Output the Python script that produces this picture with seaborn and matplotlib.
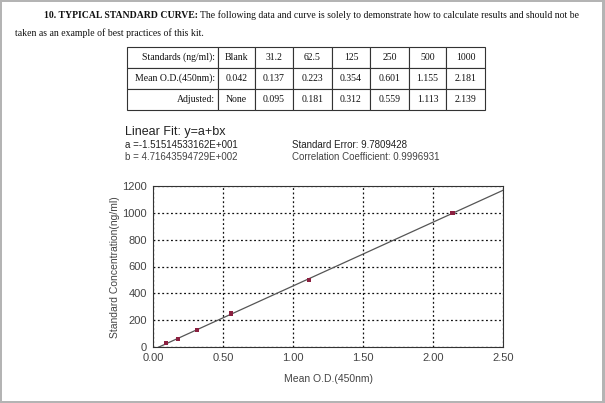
import matplotlib
matplotlib.use("Agg")
import matplotlib.pyplot as plt
import matplotlib.ticker as mticker
from matplotlib.patches import Rectangle
import seaborn as sns

sns.set_style("white")
plt.rcParams['font.family'] = ['Liberation Sans', 'DejaVu Sans']

# data from the kit's table
standards = ["Blank", "31.2", "62.5", "125", "250", "500", "1000"]
mean_od = ["0.042", "0.137", "0.223", "0.354", "0.601", "1.155", "2.181"]
adjusted = ["None", "0.095", "0.181", "0.312", "0.559", "1.113", "2.139"]
row_names = ["Standards (ng/ml):", "Mean O.D.(450nm):", "Adjusted:"]

conc = [31.2, 62.5, 125, 250, 500, 1000]
od_adj = [0.095, 0.181, 0.312, 0.559, 1.113, 2.139]

fit_a = "-1.51514533162E+001"
fit_b = "4.71643594729E+002"
std_err = "9.7809428"
corr = "0.9996931"

W, H = 605, 403


def fx(x):
    return x / W


def fy(y):
    return 1 - y / H


fig = plt.figure(figsize=(W / 100, H / 100), dpi=100)
fig.patch.set_facecolor('#b4b4b4')
fig.patches.append(Rectangle((fx(2), fy(401)), 600 / W, 399 / H, transform=fig.transFigure,
                             facecolor='white', edgecolor='none', zorder=-5))

# document text
serif = ['Liberation Serif', 'DejaVu Serif']
fig.text(fx(44), fy(18), "10. TYPICAL STANDARD CURVE:", family=serif, fontsize=7,
         fontweight='bold', va='baseline', color='#111')
fig.text(fx(200), fy(18), "The following data and curve is solely to demonstrate how to calculate "
         "results and should not be", family=serif, fontsize=7, va='baseline', color='#111')
fig.text(fx(15), fy(36), "taken as an example of best practices of this kit.", family=serif,
         fontsize=7, va='baseline', color='#111')

# table
col_px = [91, 37, 38, 39, 38, 39, 37, 39]
tax = fig.add_axes([fx(127), fy(110), sum(col_px) / W, 63 / H])
tax.axis('off')
cells = [[name] + vals for name, vals in zip(row_names, [standards, mean_od, adjusted])]
tbl = tax.table(cellText=cells, colWidths=[c / sum(col_px) for c in col_px],
                bbox=[0, 0, 1, 1], cellLoc='center')
tbl.auto_set_font_size(False)
for (r, c), cell in tbl.get_celld().items():
    cell.set_linewidth(0.8)
    cell.set_edgecolor('#333')
    cell.get_text().set_fontsize(7)
    cell.get_text().set_family(serif)
    cell.get_text().set_color('#111')
    if c == 0:
        cell.get_text().set_ha('right')
        cell.PAD = 0.035

# fit header
fig.text(fx(125), fy(135), "Linear Fit: y=a+bx", fontsize=9, va='baseline', color='#222')
fig.text(fx(125), fy(148), "a =" + fit_a, fontsize=7, va='baseline', color='#222')
fig.text(fx(125), fy(160), "b = " + fit_b, fontsize=7, va='baseline', color='#444')
fig.text(fx(292), fy(148), "Standard Error: " + std_err, fontsize=7, va='baseline', color='#222')
fig.text(fx(292), fy(160), "Correlation Coefficient: " + corr, fontsize=7, va='baseline',
         color='#444')

# standard curve
ax = fig.add_axes([fx(153), fy(347), 350 / W, 161 / H])
ax.set_xlim(0, 2.5)
ax.set_ylim(0, 1200)
sns.regplot(x=od_adj, y=conc, ci=None, truncate=False, scatter=False, ax=ax,
            line_kws=dict(color='#555', lw=0.9))
sns.scatterplot(x=od_adj, y=conc, marker='s', s=9, color='#8b2040', edgecolor='none',
                ax=ax, zorder=4)
ax.set_xlim(0, 2.5)
ax.set_ylim(0, 1200)

ax.xaxis.set_major_locator(mticker.MultipleLocator(0.5))
ax.xaxis.set_minor_locator(mticker.MultipleLocator(0.1))
ax.xaxis.set_major_formatter(mticker.FormatStrFormatter('%.2f'))
ax.yaxis.set_major_locator(mticker.MultipleLocator(200))
ax.yaxis.set_minor_locator(mticker.MultipleLocator(50))
ax.tick_params(which='major', direction='out', length=3, width=0.8, color='#444',
               labelsize=8, labelcolor='#444', pad=1.5)
ax.tick_params(which='minor', direction='inout', length=3, width=0.6, color='#444')
ax.grid(True, which='major', color='#111', linestyle=(0, (1.5, 2)), lw=0.9)
for s in ax.spines.values():
    s.set_color('#333')
    s.set_linewidth(0.8)

ax.set_xlabel("Mean O.D.(450nm)", fontsize=7.5, color='#444')
ax.set_ylabel("Standard Concentration(ng/ml)", fontsize=7.5, color='#444')
ax.xaxis.set_label_coords(0.5, -0.165)
ax.yaxis.set_label_coords(-0.095, 0.494)

fig.savefig("out.png", dpi=100, facecolor=fig.get_facecolor())
